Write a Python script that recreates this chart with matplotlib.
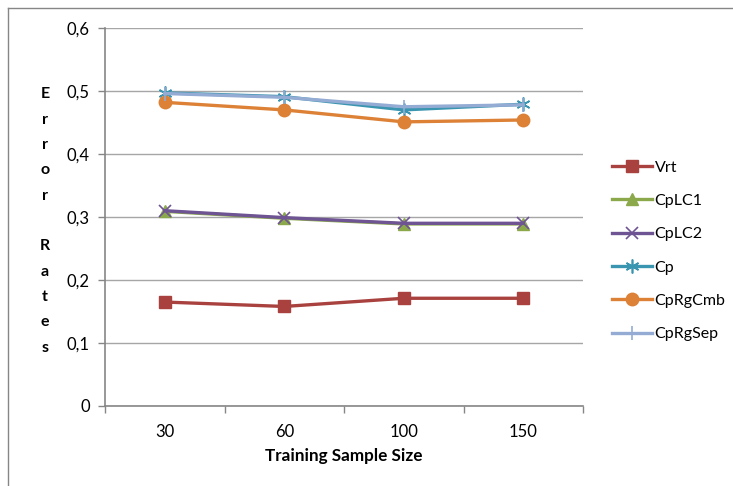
import matplotlib
matplotlib.use("Agg")
import matplotlib.pyplot as plt
from matplotlib.lines import Line2D

plt.rcParams['font.family'] = ['Lato', 'DejaVu Sans']

# data
sizes = ["30", "60", "100", "150"]
vrt = [0.165, 0.158, 0.171, 0.171]
cplc1 = [0.309, 0.298, 0.289, 0.289]
cplc2 = [0.310, 0.299, 0.290, 0.290]
cp = [0.497, 0.491, 0.470, 0.479]
cprgcmb = [0.482, 0.470, 0.451, 0.454]
cprgsep = [0.496, 0.490, 0.475, 0.478]
y_ticks = [0, 0.1, 0.2, 0.3, 0.4, 0.5, 0.6]

series = [
    ("Vrt", vrt, "#A9423F", "s", 8.5, {}),
    ("CpLC1", cplc1, "#8BA94B", "^", 9, {}),
    ("CpLC2", cplc2, "#6E5493", "x", 8, {"markeredgewidth": 1.2}),
    ("Cp", cp, "#3A95B0", (6, 2, 0), 10, {"markeredgewidth": 1.2}),
    ("CpRgCmb", cprgcmb, "#DC8136", "o", 9, {}),
    ("CpRgSep", cprgsep, "#94ACD4", "|", 10, {"markeredgewidth": 1.2}),
]

fig = plt.figure(figsize=(7.33, 4.86), dpi=100)
ax = fig.add_axes([105 / 733, 1 - 406 / 486, (583 - 105) / 733, (406 - 28) / 486])

x = list(range(len(sizes)))
handles = []
for name, vals, col, mk, ms, extra in series:
    h, = ax.plot(x, vals, color=col, lw=2.4, marker=mk, markersize=ms,
                 markerfacecolor=col, markeredgecolor=col, label=name, **extra)
    handles.append(h)

ax.set_xlim(-0.5, len(sizes) - 0.5)
ax.set_ylim(0, 0.6)
ax.set_yticks(y_ticks)
ax.set_yticklabels([("%g" % v).replace(".", ",") for v in y_ticks])
ax.set_xticks(x)
ax.set_xticklabels(sizes)
ax.set_xticks([i - 0.5 for i in range(len(sizes) + 1)], minor=True)
ax.tick_params(axis="x", which="major", length=0, pad=13, labelsize=12)
ax.tick_params(axis="x", which="minor", length=5, color="#868686", width=1)
ax.tick_params(axis="y", length=5, color="#868686", width=1, labelsize=12, pad=6)
ax.grid(axis="y", color="#A6A6A6", lw=1)
ax.set_axisbelow(True)
for s in ["top", "right"]:
    ax.spines[s].set_visible(False)
for s in ["left", "bottom"]:
    ax.spines[s].set_color("#868686")
    ax.spines[s].set_linewidth(1.2)

ax.set_xlabel("Training Sample Size", fontsize=12.3, fontweight="bold", labelpad=6)
fig.text(45 / 733, 1 - 221 / 486, "\n".join("Error Rates"), fontsize=11.5,
         fontweight="bold", ha="center", va="center", linespacing=2.03)

fig.legend(handles=handles, loc="upper left", bbox_to_anchor=(606 / 733, 1 - 154 / 486),
           frameon=False, fontsize=11.5, handlelength=2.5, handletextpad=0.15,
           labelspacing=1.2, borderaxespad=0)

# chart area border (left and top edges visible)
fig.add_artist(Line2D([8 / 733, 8 / 733], [0, 1 - 8 / 486], color="#868686", lw=1))
fig.add_artist(Line2D([8 / 733, 1], [1 - 8 / 486, 1 - 8 / 486], color="#868686", lw=1))

fig.savefig("out.png", dpi=100)
